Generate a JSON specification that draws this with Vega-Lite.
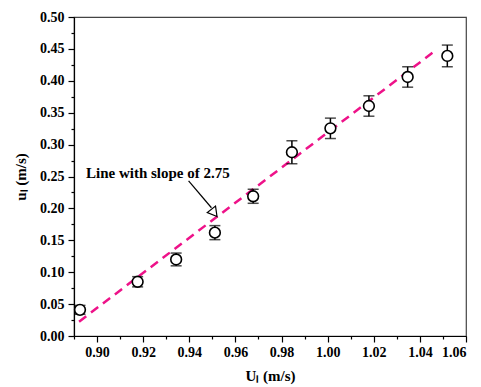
{
  "$schema": "https://vega.github.io/schema/vega-lite/v6.json",
  "autosize": {"type": "none"},
  "width": 392,
  "height": 319,
  "padding": {"left": 74, "top": 17, "right": 15, "bottom": 51},
  "background": "white",
  "config": {
    "view": {"stroke": "#444", "strokeWidth": 1.2},
    "font": "Liberation Serif",
    "axis": {
      "labelFont": "Liberation Serif", "labelFontWeight": "bold", "labelFontSize": 14, "labelColor": "black",
      "titleFont": "Liberation Serif", "titleFontWeight": "bold", "titleFontSize": 15, "titleColor": "black",
      "domainColor": "black", "tickColor": "black", "domainWidth": 1.2, "tickWidth": 1.2, "grid": false
    }
  },
  "datasets": {
    "pts": [
      {"x": 0.8926, "y": 0.041, "lo": 0.034, "hi": 0.048},
      {"x": 0.9176, "y": 0.085, "lo": 0.077, "hi": 0.093},
      {"x": 0.9343, "y": 0.120, "lo": 0.110, "hi": 0.130},
      {"x": 0.9511, "y": 0.162, "lo": 0.151, "hi": 0.173},
      {"x": 0.9677, "y": 0.219, "lo": 0.208, "hi": 0.230},
      {"x": 0.9845, "y": 0.288, "lo": 0.270, "hi": 0.306},
      {"x": 1.0012, "y": 0.3255, "lo": 0.3095, "hi": 0.3415},
      {"x": 1.0179, "y": 0.3605, "lo": 0.3445, "hi": 0.3765},
      {"x": 1.0347, "y": 0.406, "lo": 0.390, "hi": 0.422},
      {"x": 1.0519, "y": 0.439, "lo": 0.422, "hi": 0.456}
    ],
    "fit": [
      {"x": 0.8922, "y": 0.0225},
      {"x": 1.0455, "y": 0.444}
    ],
    "arrow": [
      {"x": 0.9397, "y": 0.243, "x2": 0.9496, "y2": 0.201}
    ],
    "head": [
      {"x": 0.9508, "y": 0.193}
    ],
    "label": [
      {"x": 0.8952, "y": 0.256, "t": "Line with slope of 2.75"}
    ]
  },
  "layer": [
    {
      "data": {"values": [{"v": 0.895}, {"v": 0.905}, {"v": 0.915}, {"v": 0.925}, {"v": 0.935}, {"v": 0.945}, {"v": 0.955}, {"v": 0.965}, {"v": 0.975}, {"v": 0.985}, {"v": 0.995}, {"v": 1.005}, {"v": 1.015}, {"v": 1.025}, {"v": 1.035}, {"v": 1.045}, {"v": 1.055}]},
      "mark": {"type": "point", "opacity": 0},
      "encoding": {
        "x": {"field": "v", "type": "quantitative", "scale": {"domain": [0.89, 1.06], "nice": false, "zero": false},
              "axis": {"orient": "bottom", "values": [0.89, 0.91, 0.93, 0.95, 0.97, 0.99, 1.01, 1.03, 1.05], "labels": false, "tickSize": 3, "domain": false, "title": null}},
        "y": {"datum": 0.0125, "type": "quantitative", "scale": {"domain": [0, 0.5], "nice": false},
              "axis": {"orient": "left", "values": [0.025, 0.075, 0.125, 0.175, 0.225, 0.275, 0.325, 0.375, 0.425, 0.475], "labels": false, "tickSize": 3, "domain": false, "title": null}}
      }
    },
    {
      "data": {"name": "fit"},
      "mark": {"type": "line", "color": "#ee1289", "strokeWidth": 2.5, "strokeDash": [9, 6]},
      "encoding": {
        "x": {"field": "x", "type": "quantitative", "scale": {"domain": [0.89, 1.06], "nice": false, "zero": false},
              "axis": {"orient": "bottom", "values": [0.9, 0.92, 0.94, 0.96, 0.98, 1.0, 1.02, 1.04, 1.06], "format": ".2f", "tickSize": 6, "labelPadding": 3, "title": "Uₗ (m/s)", "titlePadding": 9}},
        "y": {"field": "y", "type": "quantitative", "scale": {"domain": [0, 0.5], "nice": false},
              "axis": {"orient": "left", "values": [0, 0.05, 0.1, 0.15, 0.2, 0.25, 0.3, 0.35, 0.4, 0.45, 0.5], "format": ".2f", "tickSize": 6, "labelPadding": 4, "title": "uₗ (m/s)", "titlePadding": 11}}
      }
    },
    {
      "data": {"name": "arrow"},
      "mark": {"type": "rule", "color": "black", "strokeWidth": 1.2},
      "encoding": {
        "x": {"field": "x", "type": "quantitative", "axis": null},
        "y": {"field": "y", "type": "quantitative", "axis": null},
        "x2": {"field": "x2"},
        "y2": {"field": "y2"}
      }
    },
    {
      "data": {"name": "head"},
      "mark": {"type": "point", "shape": "triangle-down", "angle": -38, "size": 110, "filled": true, "fill": "white", "stroke": "black", "strokeWidth": 1.2, "opacity": 1},
      "encoding": {
        "x": {"field": "x", "type": "quantitative", "axis": null},
        "y": {"field": "y", "type": "quantitative", "axis": null}
      }
    },
    {
      "data": {"name": "label"},
      "mark": {"type": "text", "align": "left", "baseline": "middle", "font": "Liberation Serif", "fontWeight": "bold", "fontSize": 15, "color": "black"},
      "encoding": {
        "x": {"field": "x", "type": "quantitative", "axis": null},
        "y": {"field": "y", "type": "quantitative", "axis": null},
        "text": {"field": "t"}
      }
    },
    {
      "data": {"name": "pts"},
      "mark": {"type": "rule", "color": "black", "strokeWidth": 1.5},
      "encoding": {
        "x": {"field": "x", "type": "quantitative", "axis": null},
        "y": {"field": "lo", "type": "quantitative", "axis": null},
        "y2": {"field": "hi"}
      }
    },
    {
      "data": {"name": "pts"},
      "mark": {"type": "tick", "orient": "horizontal", "color": "black", "size": 11, "thickness": 1.5},
      "encoding": {
        "x": {"field": "x", "type": "quantitative", "axis": null},
        "y": {"field": "lo", "type": "quantitative", "axis": null}
      }
    },
    {
      "data": {"name": "pts"},
      "mark": {"type": "tick", "orient": "horizontal", "color": "black", "size": 11, "thickness": 1.5},
      "encoding": {
        "x": {"field": "x", "type": "quantitative", "axis": null},
        "y": {"field": "hi", "type": "quantitative", "axis": null}
      }
    },
    {
      "data": {"name": "pts"},
      "mark": {"type": "point", "shape": "circle", "size": 115, "filled": true, "fill": "white", "stroke": "black", "strokeWidth": 1.6, "opacity": 1},
      "encoding": {
        "x": {"field": "x", "type": "quantitative", "axis": null},
        "y": {"field": "y", "type": "quantitative", "axis": null}
      }
    }
  ],
  "resolve": {"axis": {"x": "independent", "y": "independent"}}
}
